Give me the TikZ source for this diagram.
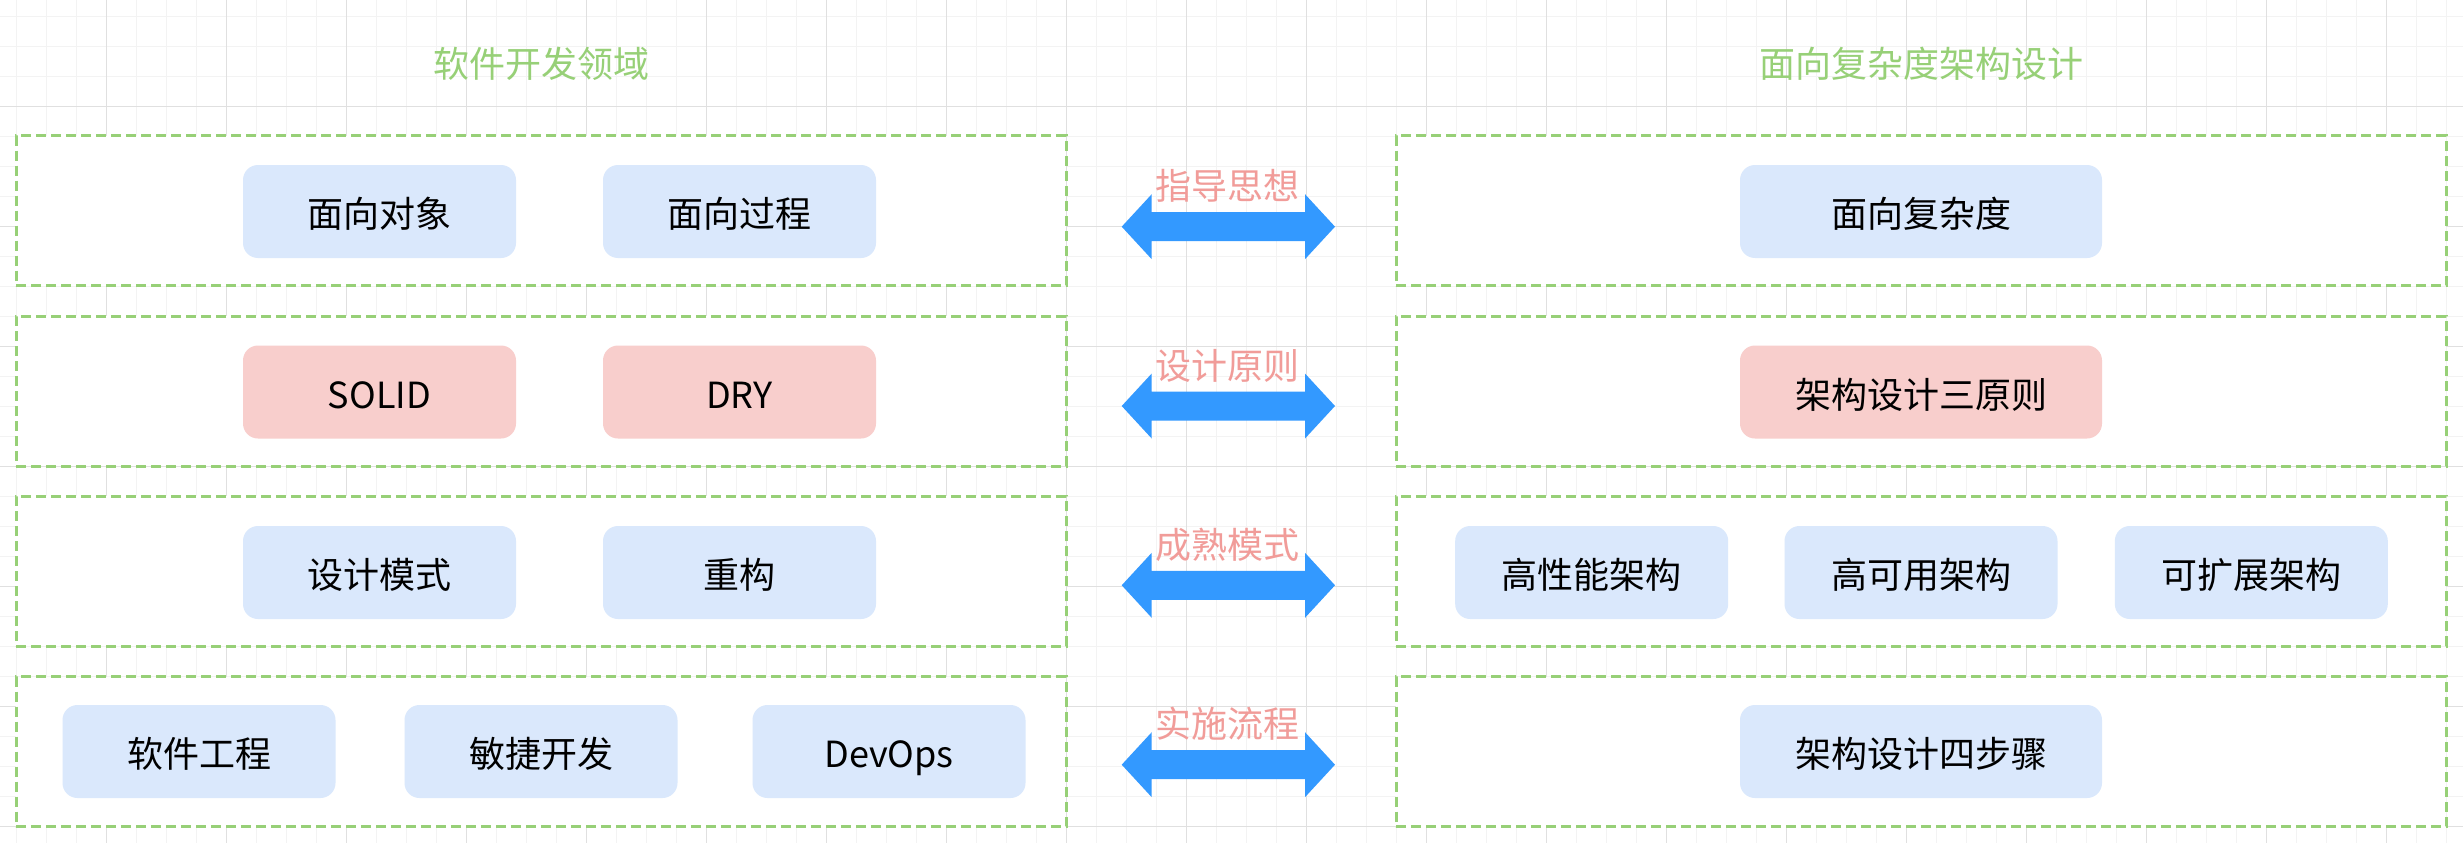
\documentclass[tikz,border=0pt]{standalone}
\usepackage{fontspec}
\setmainfont{Noto Sans CJK SC}
\definecolor{gridminor}{HTML}{F3F3F3}
\definecolor{gridmajor}{HTML}{E0E0E0}
\definecolor{dgreen}{HTML}{97D077}
\definecolor{bfill}{HTML}{DAE8FC}
\definecolor{rfill}{HTML}{F8CECC}
\definecolor{arrowblue}{HTML}{3399FF}
\definecolor{lblred}{HTML}{F19C99}
\tikzset{
  zone/.style={draw=dgreen, line width=3pt, dash pattern=on 10pt off 5pt, fill=white,
    minimum width=1050pt, minimum height=150pt, inner sep=0pt},
  item/.style={fill=bfill, rounded corners=15pt, minimum width=273pt, minimum height=93pt,
    inner sep=0pt, font=\fontsize{36}{40}\selectfont, text=black,
    text height=36pt, text depth=3.6pt},
  wideitem/.style={item, minimum width=362pt},
  reditem/.style={fill=rfill},
  ttl/.style={text=dgreen, font=\fontsize{36}{40}\selectfont, inner sep=0pt,
    text height=36pt, text depth=3.6pt},
  lbl/.style={text=lblred, font=\fontsize{36}{40}\selectfont, inner sep=0pt,
    text height=36pt, text depth=3.6pt},
  dblarrow/.style={fill=arrowblue, draw=none}
}
\begin{document}
\begin{tikzpicture}[x=1pt,y=-1pt]
\useasboundingbox (0,0) rectangle (2463,843);
\fill[white] (0,0) rectangle (2463,843);
% grid
\foreach \i in {0,...,81} {
  \draw[gridminor, line width=1.2pt] ({16.6+30*\i},0) -- ({16.6+30*\i},843);
}
\foreach \i in {0,...,27} {
  \draw[gridminor, line width=1.2pt] (0,{16.7+30*\i}) -- (2463,{16.7+30*\i});
}
\foreach \i in {0,...,20} {
  \draw[gridmajor, line width=1.2pt] ({106.6+120*\i},0) -- ({106.6+120*\i},843);
}
\foreach \i in {0,...,6} {
  \draw[gridmajor, line width=1.2pt] (0,{106.7+120*\i}) -- (2463,{106.7+120*\i});
}
% titles
\node[ttl] (tl) at (541,61.5) {软件开发领域};
\node[ttl] (tr) at (1921,61.5) {面向复杂度架构设计};
% zones
\node[zone] (L1) at (541,210.5) {};
\node[zone] (L2) at (541,391.2) {};
\node[zone] (L3) at (541,571.4) {};
\node[zone] (L4) at (541,751.5) {};
\node[zone] (R1) at (1921,210.5) {};
\node[zone] (R2) at (1921,391.2) {};
\node[zone] (R3) at (1921,571.4) {};
\node[zone] (R4) at (1921,751.5) {};
% left items
\node[item] (a1) at (379.5,211.5) {面向对象};
\node[item] (a2) at (739.5,211.5) {面向过程};
\node[item,reditem] (b1) at (379.5,392) {SOLID};
\node[item,reditem] (b2) at (739.5,392) {DRY};
\node[item] (c1) at (379.5,572.5) {设计模式};
\node[item] (c2) at (739.5,572.5) {重构};
\node[item] (d1) at (199,751.5) {软件工程};
\node[item] (d2) at (541,751.5) {敏捷开发};
\node[item] (d3) at (889,751.5) {DevOps};
% right items
\node[wideitem] (e1) at (1921,211.5) {面向复杂度};
\node[wideitem,reditem] (f1) at (1921,392) {架构设计三原则};
\node[item] (g1) at (1591.7,572.5) {高性能架构};
\node[item] (g2) at (1921,572.5) {高可用架构};
\node[item] (g3) at (2251.3,572.5) {可扩展架构};
\node[wideitem] (h1) at (1921,751.5) {架构设计四步骤};
% double arrows
\foreach \c/\t [count=\k] in {226.7/指导思想, 406/设计原则, 585.3/成熟模式, 764.7/实施流程} {
  \fill[dblarrow] (1121.7,\c) -- (1151.7,\c-32.5) -- (1151.7,\c-14.5) -- (1305,\c-14.5)
    -- (1305,\c-32.5) -- (1335,\c) -- (1305,\c+32.5) -- (1305,\c+14.5)
    -- (1151.7,\c+14.5) -- (1151.7,\c+32.5) -- cycle;
  \node[lbl] (lab\k) at (1227,\c-43.2) {\t};
}
\end{tikzpicture}
\end{document}
